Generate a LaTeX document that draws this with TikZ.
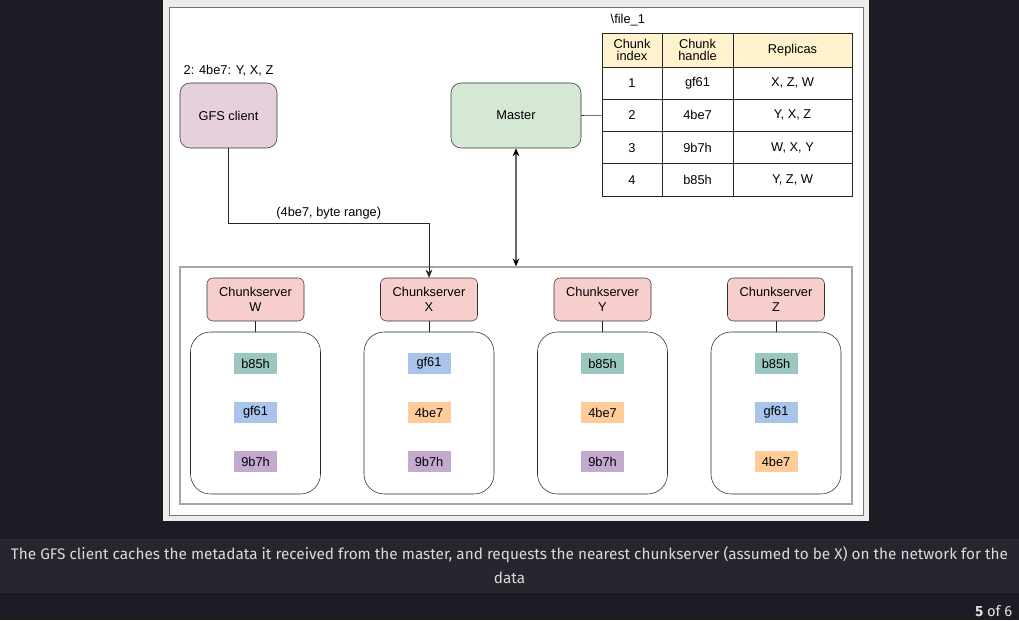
\documentclass[tikz,border=0pt]{standalone}
\usepackage{fontspec}
\setmainfont{Liberation Sans}
\newfontfamily\capfont{Fira Sans}
\usetikzlibrary{positioning}
\usetikzlibrary{arrows.meta}

\definecolor{pagebg}{HTML}{1B1C24}
\definecolor{bandbg}{HTML}{25262E}
\definecolor{frame}{HTML}{ECECEC}
\definecolor{clientfill}{HTML}{E6D0DE}
\definecolor{masterfill}{HTML}{D5E8D4}
\definecolor{serverfill}{HTML}{F8CECC}
\definecolor{headfill}{HTML}{FFF2CC}
\definecolor{chunk-b85h}{HTML}{9AC7BF}
\definecolor{chunk-gf61}{HTML}{A9C4EB}
\definecolor{chunk-4be7}{HTML}{FFCC99}
\definecolor{chunk-9b7h}{HTML}{C3ABD0}

\tikzset{
  txt/.style={font=\fontsize{9.6}{10.8}\selectfont},
  proc/.style={txt, draw=black!80, rounded corners=7.5pt, align=center,
    minimum width=72.75pt, minimum height=48.75pt, inner sep=0pt},
  serverbox/.style={txt, draw=black!80, fill=serverfill, rounded corners=4.5pt,
    align=center, minimum width=72.75pt, minimum height=32.25pt, inner sep=0pt},
  diskbox/.style={draw=black!85, rounded corners=15pt,
    minimum width=97.5pt, minimum height=121.5pt},
  chunk/.style={txt, minimum width=32.25pt, minimum height=15.75pt, inner sep=0pt},
  cell/.style={txt, draw=black!85, align=center, inner sep=0pt, minimum height=24.2pt},
  link/.style={draw=black!85},
}

\begin{document}
\begin{tikzpicture}[x=0.75pt, y=-0.75pt]
  \useasboundingbox (0,0) rectangle (1019,620);
  \fill[pagebg] (0,0) rectangle (1019,620);

  % Panel
  \fill[frame] (163,0) rectangle (869,521);
  \filldraw[fill=white, draw=black!55] (169,7) rectangle (863,515);

  % Define nodes
  \node[proc, fill=clientfill]                   (client) at (228.5,115.5) {GFS client};
  \node[txt, above=1.5pt of client]              (cache) {2: 4be7: Y, X, Z};
  \node[proc, fill=masterfill, minimum width=97.5pt] (master) at (516,115.5) {Master};
  \node[draw=black!35, line width=0.9pt, minimum width=504pt, minimum height=177.75pt]
                                                 (rack) at (516,385.5) {};

  % Chunk table
  \node[txt, anchor=west] (fname) at (606,20) {\textbackslash file\_1};
  \node[cell, fill=headfill, minimum width=45pt, minimum height=25.5pt]   (h1) at (632,50) {Chunk\\[-1.5pt]index};
  \node[cell, fill=headfill, minimum width=53.25pt, minimum height=25.5pt] (h2) at (697.5,50) {Chunk\\[-1.5pt]handle};
  \node[cell, fill=headfill, minimum width=89.25pt, minimum height=25.5pt] (h3) at (792.5,50) {Replicas};
  \foreach \r/\hdl/\rep in {1/gf61/{X, Z, W}, 2/4be7/{Y, X, Z}, 3/9b7h/{W, X, Y}, 4/b85h/{Y, Z, W}} {
    \pgfmathsetmacro\ry{67+(\r-0.5)*32.25}
    \node[cell, minimum width=45pt]    (c\r1) at (632,\ry)   {\r};
    \node[cell, minimum width=53.25pt] (c\r2) at (697.5,\ry) {\hdl};
    \node[cell, minimum width=89.25pt] (c\r3) at (792.5,\ry) {\rep};
  }

  % Chunkservers
  \foreach \s/\cx/\a/\b/\c in {W/255.5/b85h/gf61/9b7h, X/429/gf61/4be7/9b7h,
                               Y/602.5/b85h/4be7/9b7h, Z/776/b85h/gf61/4be7} {
    \node[serverbox] (cs\s) at (\cx,299.5) {Chunkserver\\\s};
    \node[diskbox]   (st\s) at (\cx,413)   {};
    \node[chunk, fill=chunk-\a] (\s1) at (\cx,363.5) {\a};
    \node[chunk, fill=chunk-\b] (\s2) at (\cx,412.5) {\b};
    \node[chunk, fill=chunk-\c] (\s3) at (\cx,461.5) {\c};
    \draw[link] (cs\s) -- (st\s);
  }

  % Connect the nodes
  \draw[link] (master.east) -- (c21.west);
  \draw[link, -{Stealth[length=6pt,width=5pt]}] (client.south) -- ++(0,75)
    -| node[txt, pos=0.25, above=-0.5pt] {(4be7, byte range)} (csX.north);
  \draw[black!60, line width=0.9pt, {Stealth[length=6pt,width=5pt,black]}-{Stealth[length=6pt,width=5pt,black]}]
    (master.south) -- (rack.north);

  % Caption
  \fill[bandbg] (0,539) rectangle (1019,593);
  \node[text=white!86!black, align=center, font=\capfont\fontsize{11.5}{18}\selectfont]
    (caption) at (509.5,565) {The GFS client caches the metadata it received from the master, and requests the nearest chunkserver (assumed to be X) on the network for the\\data};
  \node[anchor=east, text=white!90!black, font=\capfont\fontsize{11}{13}\selectfont]
    (pager) at (1017,611) {\textbf{5} of 6};
\end{tikzpicture}
\end{document}
